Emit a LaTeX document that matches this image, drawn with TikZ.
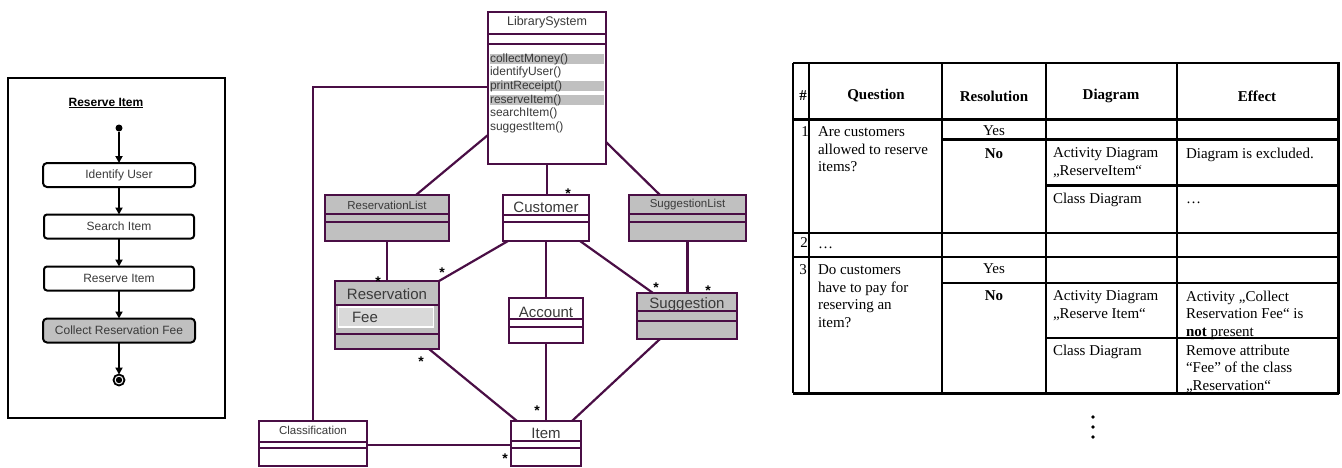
\documentclass[tikz,border=0pt]{standalone}
\usepackage{fontspec}
\setmainfont{Liberation Serif}
\setsansfont{Liberation Sans}
\usetikzlibrary{arrows.meta}
\definecolor{umlline}{HTML}{4A0E45}
\definecolor{umltext}{HTML}{3A3A3A}
\definecolor{umlfill}{HTML}{C0C0C0}
\definecolor{attrfill}{HTML}{D9D9D9}
\begin{document}
\begin{tikzpicture}[x=1pt,y=-1pt,
  every node/.style={inner sep=0pt, outer sep=0pt},
  frame/.style={draw=black, line width=1.8pt},
  act/.style={draw=black, line width=2pt, rounded corners=4pt, minimum height=24pt,
    minimum width=152pt, font=\sffamily\fontsize{12}{14}\selectfont, text=umltext},
  flow/.style={draw=black, line width=2pt, -{Triangle[length=7pt,width=7pt]}},
  cls/.style={draw=umlline, line width=2.5pt},
  assoc/.style={draw=umlline, line width=2.2pt},
  bigname/.style={font=\sffamily\fontsize{15}{17}\selectfont, text=umltext},
  smallname/.style={font=\sffamily\fontsize{11.5}{13}\selectfont, text=umltext},
  op/.style={font=\sffamily\fontsize{12}{14}\selectfont, text=umltext, anchor=west},
  mult/.style={font=\sffamily\bfseries\fontsize{14}{14}\selectfont, yshift=-3.5pt},
  cell/.style={font=\fontsize{15}{17.5}\selectfont, align=left, anchor=north west},
  txt/.style={font=\fontsize{15}{17.5}\selectfont},
  head/.style={font=\bfseries\fontsize{15}{17.5}\selectfont},
  tline/.style={draw=black, line width=1.8pt},
  tthick/.style={draw=black, line width=3pt},
]
\useasboundingbox (0,0) rectangle (1342,467);

% ---------------- activity diagram ----------------
\node[frame, minimum width=217pt, minimum height=340pt] (actframe) at (116.5,248) {};
\node[font=\sffamily\bfseries\fontsize{12}{14}\selectfont, text=black] (acttitle) at (106,103) {\underline{Reserve Item}};
\node[circle, fill=black, minimum size=7pt] (start) at (119,128) {};
\node[act] (iu) at (119,175) {Identify User};
\node[act, minimum width=150pt, rounded corners=3pt] (si) at (119,226.5) {Search Item};
\node[act, minimum width=150pt, rounded corners=3pt] (ri) at (119,278.5) {Reserve Item};
\node[act, fill=umlfill] (cr) at (119,330.5) {Collect Reservation Fee};
\node[circle, draw=black, line width=1.8pt, minimum size=11pt] (fin) at (119,380) {};
\fill[black] (fin) circle (3.2);
\draw[flow] (start) -- (iu.north);
\draw[flow] (iu.south) -- (si.north);
\draw[flow] (si.south) -- (ri.north);
\draw[flow] (ri.south) -- (cr.north);
\draw[flow] (cr.south) -- (fin.north);

% ---------------- class diagram ----------------
% class boxes
\node[cls, fill=white, minimum width=118pt, minimum height=152pt] (ls) at (547,88) {};
\node[cls, fill=white, minimum width=108pt, minimum height=45pt] (cf) at (313,443.5) {};
\node[cls, fill=umlfill, minimum width=124pt, minimum height=46pt] (rl) at (387,218) {};
\node[cls, fill=white, minimum width=86pt, minimum height=46pt] (cu) at (546,218) {};
\node[cls, fill=umlfill, minimum width=117pt, minimum height=46pt] (sl) at (687.5,218) {};
\node[cls, fill=umlfill, minimum width=104pt, minimum height=68pt] (rs) at (387,315) {};
\node[cls, fill=white, minimum width=74pt, minimum height=45pt] (ac) at (546,320.5) {};
\node[cls, fill=umlfill, minimum width=100pt, minimum height=46pt] (sg) at (687,316) {};
\node[cls, fill=white, minimum width=70pt, minimum height=45pt] (it) at (546,443.5) {};

% LibrarySystem operations
\fill[umlfill] (490,54) rectangle (604,64);
\fill[umlfill] (490,81) rectangle (604,91);
\fill[umlfill] (490,95) rectangle (604,105);
\node[smallname, font=\sffamily\fontsize{12.5}{14}\selectfont] (lsname) at (547,22) {LibrarySystem};
\node[op] (op1) at (490,59) {collectMoney()};
\node[op] (op2) at (490,72.5) {identifyUser()};
\node[op] (op3) at (490,86) {printReceipt()};
\node[op] (op4) at (490,100) {reserveItem()};
\node[op] (op5) at (490,113.5) {searchItem()};
\node[op] (op6) at (490,127) {suggestItem()};

% class names and attributes
\node[smallname] (cfname) at (313,430) {Classification};
\node[smallname] (rlname) at (387,205) {ReservationList};
\node[bigname] (cuname) at (546,207) {Customer};
\node[smallname] (slname) at (687.5,205) {SuggestionList};
\node[bigname] (rsname) at (387,294) {Reservation};
\node[fill=attrfill, draw=white, line width=1.5pt, minimum width=95pt, minimum height=20pt] (feebox) at (386,317) {};
\node[bigname, anchor=west] (fee) at (352,317) {Fee};
\node[bigname] (acname) at (546,312) {Account};
\node[bigname] (sgname) at (687,305) {Suggestion};
\node[bigname] (itname) at (546,433) {Item};

% compartment separators
\draw[cls] (ls.west |- 0,34) -- (ls.east |- 0,34);
\draw[cls] (ls.west |- 0,44) -- (ls.east |- 0,44);
\draw[cls] (cf.west |- 0,442) -- (cf.east |- 0,442);
\draw[cls] (cf.west |- 0,448) -- (cf.east |- 0,448);
\draw[cls] (rl.west |- 0,214) -- (rl.east |- 0,214);
\draw[cls] (rl.west |- 0,222) -- (rl.east |- 0,222);
\draw[cls] (cu.west |- 0,215) -- (cu.east |- 0,215);
\draw[cls] (cu.west |- 0,222) -- (cu.east |- 0,222);
\draw[cls] (sl.west |- 0,214) -- (sl.east |- 0,214);
\draw[cls] (sl.west |- 0,222) -- (sl.east |- 0,222);
\draw[cls] (rs.west |- 0,305) -- (rs.east |- 0,305);
\draw[cls] (rs.west |- 0,334) -- (rs.east |- 0,334);
\draw[cls] (ac.west |- 0,319) -- (ac.east |- 0,319);
\draw[cls] (ac.west |- 0,327) -- (ac.east |- 0,327);
\draw[cls] (sg.west |- 0,311) -- (sg.east |- 0,311);
\draw[cls] (sg.west |- 0,321) -- (sg.east |- 0,321);
\draw[cls] (it.west |- 0,441) -- (it.east |- 0,441);
\draw[cls] (it.west |- 0,448) -- (it.east |- 0,448);

% associations
\draw[assoc] (ls.west |- 0,87) -| (cf.north);
\draw[assoc] (ls.west |- 0,135) -- (rl.north -| 416,0);
\draw[assoc] (ls.south) -- (ls.south |- cu.north);
\draw[assoc] (ls.east |- 0,142) -- (sl.north -| 660,0);
\draw[assoc] (rl.south) -- (rs.north);
\draw[assoc] (cu.south -| 508,0) -- (rs.north east);
\draw[assoc] (cu.south) -- (ac.north);
\draw[assoc] (cu.south -| 580,0) -- (sg.north -| 653,0);
\draw[assoc] (sl.south) -- (sl.south |- sg.north);
\draw[assoc] (rs.south -| 429,0) -- (it.north -| 517,0);
\draw[assoc] (ac.south) -- (it.north);
\draw[assoc] (sg.south -| 660,0) -- (it.north -| 572,0);
\draw[assoc] (cf.east |- 0,445) -- (it.west |- 0,445);

% multiplicities
\node[mult] (m1) at (568,190) {*};
\node[mult] (m2) at (378,278) {*};
\node[mult] (m3) at (442,269) {*};
\node[mult] (m4) at (656,284) {*};
\node[mult] (m5) at (708,287) {*};
\node[mult] (m6) at (421,358) {*};
\node[mult] (m7) at (537,407) {*};
\node[mult] (m8) at (505,455) {*};

% ---------------- decision table ----------------
% horizontal rules
\draw[tline]  (793,63)   -- (1338,63);
\draw[tthick] (793,119)  -- (1338,119);
\draw[tthick] (942,139)  -- (1338,139);
\draw[tthick] (1046,185) -- (1338,185);
\draw[tline]  (793,233)  -- (1338,233);
\draw[tline]  (793,257)  -- (1338,257);
\draw[tline]  (942,283)  -- (1338,283);
\draw[tline]  (1046,338) -- (1338,338);
\draw[tthick] (793,393)  -- (1339,393);
% vertical rules
\draw[tline]  (793,63)  -- (793,393);
\draw[tline]  (809,63)  -- (809,393);
\draw[tline]  (942,63)  -- (942,393);
\draw[tline]  (1046,63) -- (1046,393);
\draw[tline]  (1177,63) -- (1177,393);
\draw[tthick] (1338,62) -- (1338,394);

% header
\node[head] (hnum) at (803,96) {\#};
\node[head] (hq) at (876,96) {Question};
\node[head] (hr) at (994,96) {Resolution};
\node[head] (hd) at (1111,96) {Diagram};
\node[head] (he) at (1257,96) {Effect};

% row 1
\node[txt] (n1) at (805,132) {1};
\node[cell] (q1) at (818,127) {Are customers\\allowed to reserve\\items?};
\node[txt] (y1) at (994,131) {Yes};
\node[txt, font=\bfseries\fontsize{15}{17.5}\selectfont] (no1) at (994,154) {No};
\node[cell] (d1a) at (1053,148) {Activity Diagram\\„ReserveItem“};
\node[cell] (e1a) at (1186,148) {Diagram is excluded.};
\node[cell] (d1b) at (1053,193) {Class Diagram};
\node[txt, anchor=base west] (e1b) at (1186,203) {…};

% row 2
\node[txt] (n2) at (804,243) {2};
\node[txt, anchor=base west] (q2) at (818,248) {…};

% row 3
\node[txt] (n3) at (803,270) {3};
\node[cell] (q3) at (818,265) {Do customers\\have to pay for\\reserving an\\item?};
\node[txt] (y3) at (994,269) {Yes};
\node[txt, font=\bfseries\fontsize{15}{17.5}\selectfont] (no3) at (994,296) {No};
\node[cell] (d3a) at (1053,291) {Activity Diagram\\„Reserve Item“};
\node[cell] (e3a) at (1186,291) {Activity „Collect\\Reservation Fee“ is\\\textbf{not} present};
\node[cell] (d3b) at (1053,345) {Class Diagram};
\node[cell] (e3b) at (1186,345) {Remove attribute\\“Fee” of the class\\„Reservation“};

% continuation dots
\fill[black] (1093,417) circle (1.8);
\fill[black] (1093,427) circle (1.8);
\fill[black] (1093,437) circle (1.8);
\end{tikzpicture}
\end{document}
